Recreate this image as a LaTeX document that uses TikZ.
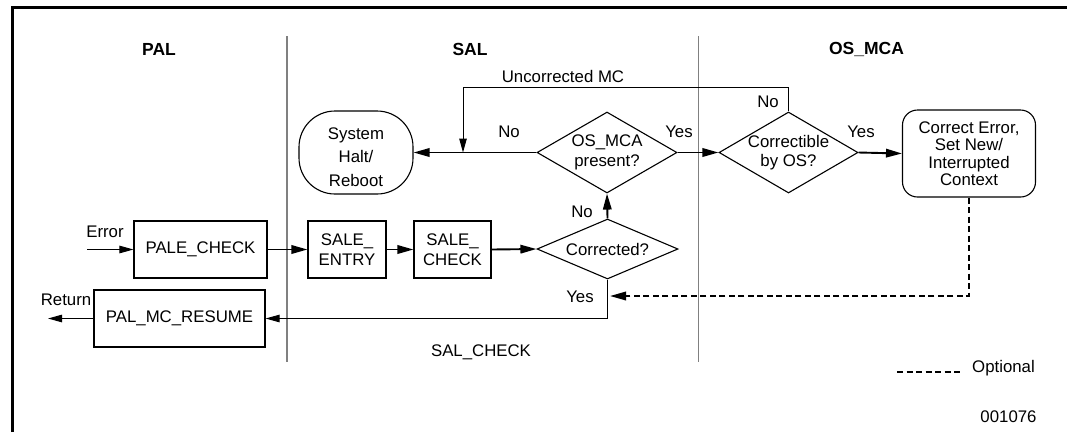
\documentclass[tikz,border=0pt]{standalone}
\usepackage{fontspec}
\setmainfont{Liberation Sans}
\usetikzlibrary{arrows.meta,shapes.geometric}
\begin{document}
\begin{tikzpicture}[x=1pt,y=-1pt,
  every node/.style={font=\fontsize{16.8}{19.5}\selectfont, inner sep=0pt},
  hdr/.style={font=\bfseries\fontsize{17.5}{19}\selectfont},
  box/.style={draw, line width=1.1pt, align=center},
  dia/.style={draw, diamond, line width=1.1pt, inner sep=0pt},
  thk/.style={line width=1.9pt},
  thn/.style={line width=1pt},
  arr/.style={-{Triangle[length=16pt,width=8.5pt]}},
  tarr/.style={-{Triangle[length=14pt,width=7.5pt]}},
  dsh/.style={line width=1.9pt, dash pattern=on 6pt off 3.5pt},
  divider/.style={line width=1.4pt, draw=black!50}
]
\useasboundingbox (0,0) rectangle (1067,432);
% frame
\draw[line width=2.6pt] (12.5,432) -- (12.5,7.5) -- (1070,7.5);
% dividers
\draw[divider] (287,36) -- (287,362);
\draw[divider] (698.5,36) -- (698.5,362);
% headers
\node[hdr] (hpal) at (159,49) {PAL};
\node[hdr] (hsal) at (470,49) {SAL};
\node[hdr] (hos) at (866.5,49) {OS\_MCA};
% boxes
\node[box, minimum width=133, minimum height=57] (pale) at (200.5,249.5) {PALE\_CHECK};
\node[box, minimum width=78, minimum height=57] (sentry) at (347,249.5) {SALE\_\\ENTRY};
\node[box, minimum width=77, minimum height=57] (scheck) at (452.5,249.5) {SALE\_\\CHECK};
\node[box, minimum width=171, minimum height=57] (pmr) at (179.5,318.5) {PAL\_MC\_RESUME};
\node[box, rounded corners=36pt, minimum width=114, minimum height=83] (halt) at (356,152.5) {};
\node[align=center, font=\fontsize{16.8}{23.5}\selectfont] (haltt) at (356,157) {System\\Halt/\\Reboot};
\node[box, rounded corners=15pt, minimum width=133, minimum height=87,
  font=\fontsize{16.8}{17.5}\selectfont] (ce) at (969,153.5) {Correct Error,\\Set New/\\Interrupted\\Context};
% diamonds
\node[dia, minimum width=140, minimum height=81] (osmca) at (607,152.5) {};
\node[align=center] (osmcat) at (osmca.center) {OS\_MCA\\present?};
\node[dia, minimum width=139, minimum height=81] (corr) at (788.5,152.5) {};
\node[align=center] (corrt) at (corr.center) {Correctible\\by OS?};
\node[dia, minimum width=141, minimum height=60] (cd) at (607.5,249) {};
\node (cdt) at (cd.center) {Corrected?};
% coordinates
\coordinate (err) at (87,249.5);
\coordinate (ret) at (48,318.5);
\coordinate (loopL) at (463,87);
\coordinate (join) at (463,152.5);
\coordinate (dj) at (610,296);
% connectors
\draw[thn,tarr] (err) -- (pale.west);
\draw[thk,arr] (pale.east) -- (sentry.west);
\draw[thk,arr] (sentry.east) -- (scheck.west);
\draw[thk,arr] (scheck.east) -- (cd.west);
\draw[thk,arr] (cd.north) -- (osmca.south);
\draw[thk,arr] (osmca.west) -- (halt.east);
\draw[thk,arr] (osmca.east) -- (corr.west);
\draw[thk,arr] (corr.east) -- (ce.west);
\draw[thn,tarr] (corr.north) |- (loopL) -- (join);
\draw[dsh,arr] (ce.south) |- (dj);
\draw[thn,tarr] (cd.south) |- (pmr.east);
\draw[thn,tarr] (pmr.west) -- (ret);
% labels
\node (lerr) at (105,232) {Error};
\node (lret) at (66,300) {Return};
\node (lunc) at (563,76) {Uncorrected MC};
\node (lno1) at (509,131.5) {No};
\node (lyes1) at (679,131.5) {Yes};
\node (lno2) at (768,102) {No};
\node (lyes2) at (861,131.5) {Yes};
\node (lno3) at (582,212) {No};
\node (lyes3) at (580,297) {Yes};
\node (lsal) at (481,352) {SAL\_CHECK};
% legend
\coordinate (lg1) at (897,372);
\coordinate (lg2) at (960,372);
\draw[dsh] (lg1) -- (lg2);
\node[anchor=base west] (lopt) at (972,372) {Optional};
\node (lnum) at (1008.5,417) {001076};
\end{tikzpicture}
\end{document}
